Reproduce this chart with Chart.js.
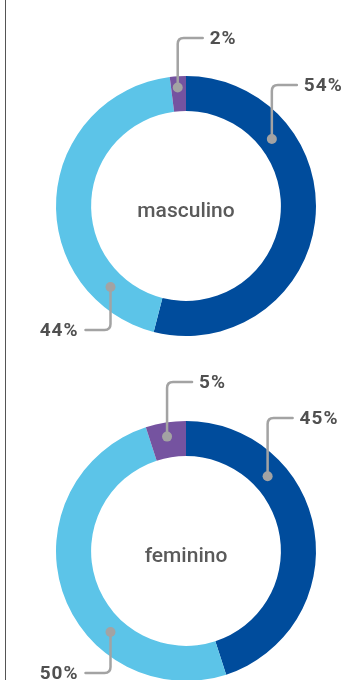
<!DOCTYPE html>
<html>
<head>
<meta charset="utf-8">
<script src="https://cdn.jsdelivr.net/npm/chart.js@4/dist/chart.umd.min.js"></script>
<style>
  html, body { margin: 0; padding: 0; background: #ffffff; }
  body { width: 348px; height: 680px; overflow: hidden; position: relative; }
  .rule { position: absolute; left: 5px; top: 0; width: 1px; height: 680px; background: #555555; }
  canvas { position: absolute; left: 0; }
  #c1 { top: 0; }
  #c2 { top: 345px; }
</style>
</head>
<body>
<div class="rule"></div>
<canvas id="c1" width="348" height="345"></canvas>
<canvas id="c2" width="348" height="345"></canvas>
<script>
// Groups shown in each ring (clockwise from 12 o'clock)
const sliceKeys = ['grupo 1', 'grupo 2', 'grupo 3'];
const categories = ['masculino', 'feminino'];
const masculinoValues = [54, 44, 2];
const femininoValues = [45, 50, 5];

const sliceColors = ['#004c9c', '#5cc4e8', '#7553a0'];

// Leader line placement: angle of the dot (degrees clockwise from top),
// dot position across the ring (0 = inner edge, 1 = outer edge)
// and vertical offset of the elbow from the ring centre.
const leaderLayout = {
  masculino: [
    { angle: 52, depth: 0.4, elbow: -121, side: 1 },
    { angle: 223, depth: 0.45, elbow: 124, side: -1 },
    { angle: 356, depth: 0.68, elbow: -168, side: 1 }
  ],
  feminino: [
    { angle: 47.5, depth: 0.45, elbow: -133, side: 1 },
    { angle: 223, depth: 0.45, elbow: 122, side: -1 },
    { angle: 350.6, depth: 0.6, elbow: -169, side: 1 }
  ]
};

const leaderPlugin = {
  id: 'leaders',
  afterDraw(chart, args, opts) {
    const ctx = chart.ctx;
    const meta = chart.getDatasetMeta(0);
    const values = chart.data.datasets[0].data;
    const first = meta.data[0];
    const cx = first.x, cy = first.y;

    // centre caption
    ctx.save();
    ctx.fillStyle = '#5a5a5a';
    ctx.font = '500 21px Roboto';
    ctx.textAlign = 'center';
    ctx.textBaseline = 'alphabetic';
    ctx.fillText(opts.caption, cx, cy + 11);
    ctx.restore();

    meta.data.forEach((arc, i) => {
      const lay = opts.layout[i];
      const r = arc.innerRadius + (arc.outerRadius - arc.innerRadius) * lay.depth;
      const a = lay.angle * Math.PI / 180;
      const dx = cx + r * Math.sin(a);
      const dy = cy - r * Math.cos(a);
      const ey = cy + lay.elbow;
      const hx = dx + lay.side * 25;
      const cr = 6;
      const vdir = ey < dy ? -1 : 1;

      ctx.save();
      ctx.strokeStyle = '#a3a3a3';
      ctx.lineWidth = 2.5;
      ctx.lineCap = 'round';
      ctx.beginPath();
      ctx.moveTo(dx, dy);
      ctx.lineTo(dx, ey - vdir * cr);
      ctx.quadraticCurveTo(dx, ey, dx + lay.side * cr, ey);
      ctx.lineTo(hx, ey);
      ctx.stroke();

      ctx.fillStyle = '#a3a3a3';
      ctx.beginPath();
      ctx.arc(dx, dy, 5, 0, Math.PI * 2);
      ctx.fill();

      ctx.fillStyle = '#505050';
      ctx.font = 'bold 19px Roboto';
      ctx.letterSpacing = '1px';
      ctx.textBaseline = 'middle';
      ctx.textAlign = lay.side > 0 ? 'left' : 'right';
      ctx.fillText(values[i] + '%', hx + lay.side * 7, ey + 1);
      ctx.restore();
    });
  }
};

function makeRing(id, caption, values) {
  return new Chart(document.getElementById(id), {
    type: 'doughnut',
    data: {
      labels: sliceKeys,
      datasets: [{
        data: values,
        backgroundColor: sliceColors,
        borderWidth: 0,
        hoverOffset: 0
      }]
    },
    options: {
      responsive: false,
      animation: false,
      cutout: '73%',
      rotation: 0,
      layout: { padding: { left: 56, right: 32, top: 76, bottom: 9 } },
      plugins: {
        legend: { display: false },
        tooltip: { enabled: false },
        leaders: { caption: caption, layout: leaderLayout[caption] }
      }
    },
    plugins: [leaderPlugin]
  });
}

makeRing('c1', categories[0], masculinoValues);
makeRing('c2', categories[1], femininoValues);
</script>
</body>
</html>
